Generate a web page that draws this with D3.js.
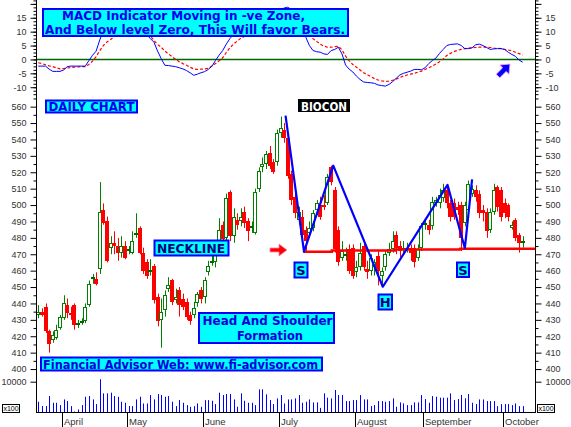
<!DOCTYPE html>
<html><head><meta charset="utf-8">
<script src="https://cdn.jsdelivr.net/npm/d3@7"></script>
<style>body{margin:0;background:#fff}svg{display:block}</style>
</head><body><svg id="c" width="571" height="427"></svg>
<script>
// [open, high, low, close]
const candles = [
[433,439,431,435],[435,437,432,433],[438,440,422,423],[423,424,410,415],[418,423,416,421],
[419,427,418,424],[425,433,424,432],[431,445,430,440],[439,443,431,434],[434,438,430,433],
[439,440,424,427],[427,430,425,428],[428,431,427,429],[429,440,428,438],[439,454,438,452],
[455,458,452,456],[455,459,451,452],[461,514,458,496],[497,501,488,489],[490,493,465,466],
[474,481,470,477],[477,484,470,475],[475,480,466,471],[471,481,468,475],[475,478,467,468],
[472,475,470,473],[471,484,470,478],[482,495,480,483],[486,487,470,471],[471,474,458,460],
[465,467,455,457],[459,467,457,460],[463,464,440,442],[444,446,426,429],[430,443,413,435],
[436,448,432,445],[449,456,447,451],[454,455,439,441],[442,449,440,444],[448,450,432,439],
[443,446,436,438],[441,443,430,432],[433,435,427,429],[433,441,431,437],[440,447,438,446],
[448,450,440,443],[444,456,440,454],[459,466,457,463],[465,470,463,466],[465,473,462,471],
[477,492,475,485],[488,490,472,479],[480,507,478,504],[508,509,478,481],[481,498,477,493],
[491,495,485,488],[490,498,487,493],[496,499,486,489],[490,492,478,484],[486,490,483,487],
[483,510,482,508],[510,523,508,521],[523,529,520,525],[525,533,522,531],[532,536,522,524],
[526,528,519,520],[526,546,524,544],[544,554,541,547],[546,550,538,541],[541,543,516,518],
[519,521,500,503],[505,508,492,495],[491,499,488,496],[493,497,479,482],[485,487,472,478],
[483,490,480,486],[486,497,484,495],[497,503,494,501],[500,505,491,493],[500,506,497,499],
[501,519,500,517],[523,524,512,514],[509,511,471,473],[485,487,463,465],[468,478,466,472],
[469,474,466,470],[473,476,458,460],[474,476,455,457],[459,466,456,462],[462,477,460,471],
[475,477,460,462],[461,466,455,459],[460,470,457,468],[462,467,457,465],[469,472,451,460],
[457,462,452,460],[462,472,460,470],[471,477,469,473],[473,484,471,478],[482,484,470,474],
[475,478,468,472],[473,478,470,474],[473,477,471,474],[474,476,466,471],[474,476,462,465],
[468,476,466,473],[474,489,472,487],[488,492,485,489],[488,491,482,485],[487,505,485,502],
[501,505,499,503],[501,510,498,506],[504,513,502,509],[509,511,498,501],[501,503,490,493],
[501,504,491,493],[499,502,494,497],[500,502,472,480],[489,502,487,500],[497,515,495,513],
[507,512,505,510],[509,512,502,505],[507,509,492,495],[497,500,490,495],[496,498,480,484],
[485,498,483,496],[496,513,494,509],[511,512,496,499],[509,511,490,493],[501,504,492,495],
[500,501,490,493],[486,490,485,488],[491,492,478,480],[482,483,471,477],[477,481,474,478]
];
// volume in x100
const volume = [
3490,2070,2070,5340,3160,3160,2400,4250,3700,2070,
300,980,2400,5120,5340,4250,2730,10790,6210,6210,
6430,5340,5120,3490,3160,2070,2070,4250,5120,2940,
2940,5670,4250,6000,5670,5120,5340,3490,2070,4030,
3160,2400,1850,2070,2940,1850,4030,4030,3820,2730,
6430,5670,6000,6000,4250,1850,6210,3820,3160,3160,
2400,7520,7520,5890,4030,2730,4580,5670,2940,4250,
4250,4580,5670,3160,3490,4250,3270,3270,1500,6210,
4800,4580,7300,5670,5670,3700,3700,4030,4030,5670,
4250,4250,2070,2400,3700,3700,3490,3700,4580,1850,
3270,2940,2400,2400,3270,3270,5670,4360,3160,5340,
5120,4800,4800,4800,6210,4030,4360,5670,4580,6000,
3160,2730,4250,4250,3700,3700,3700,2070,2730,2730,
2730,2400,2940,2070,2070
];
const macd = [
-2.4,-2.4,-2.4,-3.5,-4.3,-4.3,-4.3,-3.8,-2.6,-2.4,
-2.4,-2.4,-2.4,-2.4,-0.4,1.5,3.0,7.0,10.5,12.5,
13.5,14.0,14.5,14.5,14.0,13.5,13.0,12.5,11.5,10.5,
9.0,7.5,6.2,3.0,0.3,-2.1,-2.2,-2.4,-2.6,-3.0,
-3.4,-4.0,-4.8,-5.7,-5.3,-4.8,-4.4,-3.6,-2.5,-0.4,
1.5,3.2,5.5,7.5,9.0,10.5,11.5,12.0,12.5,13.0,
13.5,14.0,14.8,15.5,16.3,17.0,17.5,18.0,18.5,18.8,
18.0,16.0,13.5,10.5,8.0,5.0,3.2,2.8,2.6,2.0,
1.8,3.2,3.6,4.4,2.0,-2.0,-3.5,-4.5,-6.0,-7.2,
-8.1,-8.3,-8.4,-8.6,-9.2,-9.4,-9.6,-9.0,-8.0,-6.8,
-5.6,-5.0,-4.6,-4.2,-3.6,-3.6,-3.7,-3.0,-1.5,-0.4,
0.5,2.2,3.6,5.0,5.4,5.5,5.6,5.0,3.9,3.9,
4.2,5.3,5.5,5.0,4.3,3.6,3.8,3.9,3.9,3.6,
2.6,1.8,1.1,-0.2,-1.0
];
const signal = [
-1.2,-1.5,-1.9,-2.3,-2.6,-3.0,-3.4,-3.3,-3.1,-2.9,
-2.8,-2.7,-2.6,-2.6,-1.8,-0.6,1.0,3.2,5.0,6.3,
7.2,8.2,9.2,10.2,11.0,11.6,12.0,12.2,12.0,11.4,
10.2,8.5,6.8,5.4,4.4,3.0,2.0,1.0,0.0,-0.8,
-1.5,-2.1,-2.8,-3.4,-3.6,-3.5,-3.4,-3.2,-2.4,-1.5,
-0.5,0.6,2.5,4.2,5.5,6.6,7.6,8.3,9.0,9.6,
10.2,10.8,11.4,12.0,12.6,13.2,13.8,14.4,15.0,15.4,
15.6,15.4,14.5,13.0,11.0,9.0,7.5,6.5,5.5,4.8,
4.4,4.4,4.6,4.7,3.5,1.2,-0.5,-1.8,-2.8,-3.8,
-4.8,-5.5,-6.2,-6.9,-7.4,-7.7,-7.9,-7.8,-7.5,-7.1,
-6.5,-6.0,-5.6,-5.3,-5.0,-4.6,-4.2,-3.6,-3.0,-2.4,
-1.6,-0.8,0.2,1.4,2.2,2.8,3.3,3.6,3.9,4.1,
4.2,4.3,4.4,4.4,4.4,4.3,4.1,4.0,3.9,3.6,
3.4,3.1,2.6,2.1,1.6
];
const monthLabels = ["April","May","June","July","August","September","October"];
const monthStartIdx = [7,25,46,67,88,107,129];
const priceTicks = d3.range(400, 561, 10);
const macdTicks = [15,10,5,0,-5,-10];
const volTicks = [10000];
// [bar index, price]
const neckline = [[73.3,471.6],[81.2,471.6],[81.2,472.3],[98.7,472.3],[98.7,472.9],[116.7,472.9],[116.7,473.4],[137.4,473.4]];
const hsPattern = [[68.4,554.5],[73.5,471.6],[81.6,524],[95.3,450.2],[113.2,512.3],[118,473.7],[120,515.7]];

const svg = d3.select('#c');
const L = 36, R = 535;
const GREEN = '#008000', RED = '#ff0000', BLUE = '#0000ff';
const x = d3.scaleLinear().domain([0, candles.length-1]).range([38.3, 522.7]);
const yP = d3.scaleLinear().domain([398.2, 566.5]).range([372, 96]);
const yM = d3.scaleLinear().domain([-12.8, 21.4]).range([95, 0]);
const yV = d3.scaleLinear().domain([0, 10000]).range([412.5, 381.7]);
const px = i => Math.round(x(i));
const FONT = '"Liberation Sans", Arial, sans-serif';
const BFONT = '"DejaVu Sans", Verdana, sans-serif';

// ---- MACD panel ----
svg.append('line').attr('x1', L).attr('x2', R).attr('y1', Math.round(yM(0))+0.5).attr('y2', Math.round(yM(0))+0.5)
  .attr('stroke', '#006600').attr('stroke-width', 1.5);
const lineM = d3.line().x((d,i)=>x(i)).y(d=>yM(d));
svg.append('path').datum(signal).attr('d', lineM).attr('fill','none').attr('stroke', RED).attr('stroke-width',1.2).attr('stroke-dasharray','3,2');
svg.append('path').datum(macd).attr('d', lineM).attr('fill','none').attr('stroke', BLUE).attr('stroke-width',1);

// ---- Volume ----
svg.append('g').selectAll('line').data(volume).join('line')
  .attr('x1',(d,i)=>px(i)+0.5).attr('x2',(d,i)=>px(i)+0.5)
  .attr('y1', yV(0)).attr('y2', d=>yV(d)).attr('stroke', BLUE).attr('stroke-width',1);

// ---- Candles ----
const cg = svg.append('g').selectAll('g').data(candles).join('g');
cg.append('line')
  .attr('x1',(d,i)=>px(i)+0.5).attr('x2',(d,i)=>px(i)+0.5)
  .attr('y1', d=>yP(d[1])).attr('y2', d=>yP(d[2]))
  .attr('stroke', d=>d[3]>=d[0]?GREEN:RED).attr('stroke-width',1);
cg.each(function(d,i){
  const g = d3.select(this);
  const [o,h,l,c] = d;
  const p = px(i);
  if (Math.abs(c-o) <= 1) {
    const yy = Math.round(yP((o+c)/2));
    g.append('rect').attr('x', p-2).attr('y', yy-1).attr('width',4).attr('height',2)
      .attr('fill', c>=o ? '#006400' : RED);
  } else if (c > o) {
    const t = Math.round(yP(c)), b = Math.round(yP(o));
    g.append('rect').attr('x', p-1.5).attr('y', t+0.5).attr('width',3).attr('height', Math.max(1,b-t-1))
      .attr('fill','#fff').attr('stroke', GREEN).attr('stroke-width',1);
  } else {
    const t = Math.round(yP(o)), b = Math.round(yP(c));
    g.append('rect').attr('x', p-2).attr('y', t).attr('width',4).attr('height', Math.max(1,b-t))
      .attr('fill', RED);
  }
});

// neckline
const lineP = d3.line().x(d=>x(d[0])).y(d=>yP(d[1]));
svg.append('path').datum(neckline).attr('d', lineP).attr('fill','none').attr('stroke', RED).attr('stroke-width',2.5);
// head & shoulders zigzag
svg.append('path').datum(hsPattern).attr('d', lineP).attr('fill','none').attr('stroke', BLUE).attr('stroke-width',2.2).attr('stroke-linejoin','round');

// ---- Axes ----
function styleAxis(g){
  g.select('.domain').remove();
  g.selectAll('.tick line').attr('stroke','#000');
  g.selectAll('.tick text').attr('fill','#333').style('font-family', FONT).style('font-size','9px');
}
// vertical axis lines
svg.append('line').attr('x1',L+0.5).attr('x2',L+0.5).attr('y1',0).attr('y2',413).attr('stroke','#000');
svg.append('line').attr('x1',R+0.5).attr('x2',R+0.5).attr('y1',0).attr('y2',413).attr('stroke','#000');
// bottom axis line
svg.append('line').attr('x1',L).attr('x2',R+1).attr('y1',412.5).attr('y2',412.5).attr('stroke','#000');

[[d3.axisLeft, L+0.5, -1], [d3.axisRight, R+0.5, 1]].forEach(([ax, xx])=>{
  // price
  svg.append('g').attr('transform',`translate(${xx},0)`)
    .call(ax(yP).tickValues(d3.range(405, 566, 10)).tickSize(3).tickFormat('')).call(styleAxis);
  svg.append('g').attr('transform',`translate(${xx},0)`)
    .call(ax(yP).tickValues(priceTicks).tickSize(6).tickPadding(4)).call(styleAxis);
  // macd
  svg.append('g').attr('transform',`translate(${xx},0)`)
    .call(ax(yM).tickValues(d3.range(-12.5, 21.3, 1.25)).tickSize(3).tickFormat('')).call(styleAxis);
  svg.append('g').attr('transform',`translate(${xx},0)`)
    .call(ax(yM).tickValues(macdTicks.concat([20])).tickSize(6).tickPadding(4).tickFormat(d=> d===20?'':d)).call(styleAxis);
  // volume
  svg.append('g').attr('transform',`translate(${xx},0)`)
    .call(ax(yV).tickValues(volTicks).tickSize(6).tickPadding(4).tickFormat(d=>d)).call(styleAxis);
});

// month axis
const xm = svg.append('g');
monthStartIdx.forEach((idx,k)=>{
  const mx = Math.round(x(idx) - 1.8) + 0.5;
  xm.append('line').attr('x1',mx).attr('x2',mx).attr('y1',413).attr('y2',427).attr('stroke','#000');
  xm.append('text').attr('x', mx+1.5).attr('y', 425).text(monthLabels[k])
    .attr('fill','#333').style('font-family',FONT).style('font-size','9.5px');
});

// x100 boxes
[[2,404],[537,404]].forEach(([bx,by])=>{
  svg.append('rect').attr('x',bx+0.5).attr('y',by+0.5).attr('width',17).attr('height',8).attr('fill','#fff').attr('stroke','#000');
  svg.append('text').attr('x',bx+9).attr('y',by+7).attr('text-anchor','middle').text('x100')
    .style('font-family',FONT).style('font-size','7px').attr('fill','#000');
});

// ---- Annotations ----
function box(x0,y0,w,h,fill,stroke,sw){
  svg.append('rect').attr('x',x0).attr('y',y0).attr('width',w).attr('height',h)
    .attr('fill',fill).attr('stroke',stroke).attr('stroke-width',sw);
}
function txt(t,x0,y0,size,color,len,anchor){
  const e = svg.append('text').attr('x',x0).attr('y',y0).text(t)
    .attr('fill',color).style('font-family',BFONT).style('font-weight','bold').style('font-size',size+'px');
  if (len) e.attr('textLength',len).attr('lengthAdjust','spacingAndGlyphs');
  if (anchor) e.attr('text-anchor',anchor);
  return e;
}
const CY = '#00ffff';
box(43,9,305,27,CY,BLUE,2);
txt('MACD Indicator Moving in -ve Zone,',62,20,12.5,'#0000ee',243);
txt('And Below level Zero, This Will favor Bears.',45,33.5,12.5,'#0000ee',300);

box(46,100.5,91,12,CY,BLUE,2);
txt('DAILY CHART',48.5,111,12,'#0000ee',86);

svg.append('rect').attr('x',298).attr('y',99).attr('width',52).attr('height',13).attr('fill','#000');
txt('BIOCON',301,110.5,12,'#fff',46);

box(154.5,240.5,74,15,CY,BLUE,2);
txt('NECKLINE',157,252.5,12.5,'#000080',68);

box(294.5,262.5,13,15,CY,BLUE,2);
txt('S',301,275,13,'#000080',null,'middle');
box(457,262.5,12,14.5,CY,BLUE,2);
txt('S',463,275,13,'#000080',null,'middle');
box(378.5,294.5,13.5,15,CY,BLUE,2);
txt('H',385.2,307,13,'#000080',null,'middle');

box(199,313,135,30,CY,BLUE,2);
txt('Head And Shoulder',202.5,325,12.5,'#0000dd',130);
txt('Formation',237,339.5,12.5,'#0000dd',66);

box(41,357.5,281,13,CY,BLUE,2);
txt('Financial Advisor Web: www.fi-advisor.com',43,368.5,12.5,'#0000dd',275);

// red arrow (pointing right)
svg.append('path').attr('d','M270,248 L279,248 L279,244 L287,250 L279,256 L279,252 L270,252 Z')
  .attr('fill',RED).attr('stroke','#ff88aa').attr('stroke-width',0.8);
// blue arrow (pointing up-right)
svg.append('path').attr('d','M0,-2.5 L9,-2.5 L9,-6.5 L17,0 L9,6.5 L9,2.5 L0,2.5 Z')
  .attr('transform','translate(498,76) rotate(-45)')
  .attr('fill',BLUE).attr('stroke','#ff99ff').attr('stroke-width',0.8);
</script>
</body></html>
